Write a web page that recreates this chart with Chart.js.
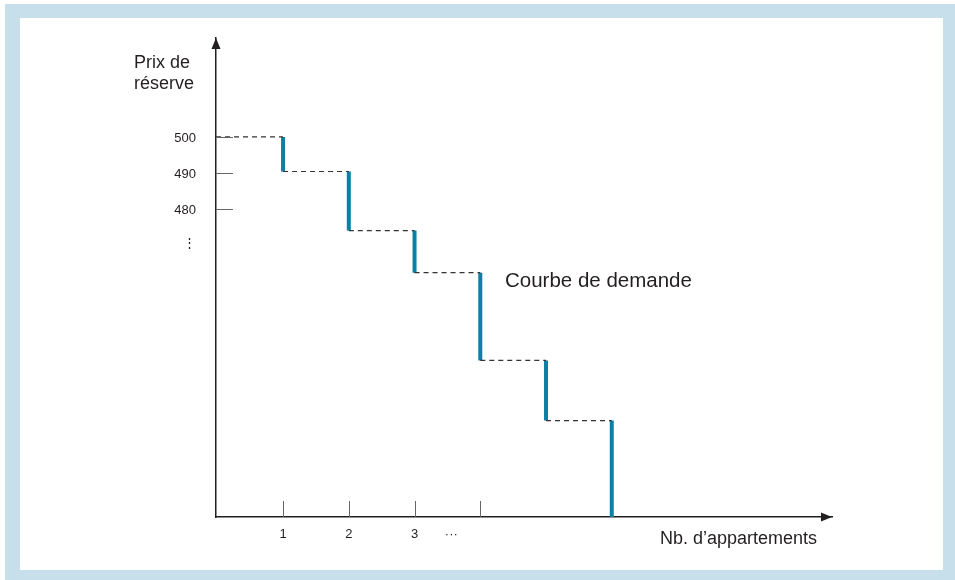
<!DOCTYPE html>
<html>
<head>
<meta charset="utf-8">
<script src="https://cdn.jsdelivr.net/npm/chart.js@4"></script>
<style>
  html, body { margin: 0; padding: 0; background: #fff; }
  #cadre { position: absolute; left: 5px; top: 4px; width: 950px; height: 576px; background: #c6dfeb; }
  #fond { position: absolute; left: 20px; top: 18px; width: 923px; height: 552px; background: #fff; }
  #zone { position: absolute; left: 0; top: 0; width: 955px; height: 580px; }
</style>
</head>
<body>
<div id="cadre"></div>
<div id="fond"></div>
<div id="zone"><canvas id="graphe" width="955" height="580"></canvas></div>
<script>
// donnees
var appartements = [1, 2, 3, 4, 5, 6];
var prixPalier = [500, 490.4, 474, 462.3, 437.9, 421.2]; // prix de reserve de chaque appartement
var prixPlancher = 394.4; // bas de l'axe

var xTickValeurs = [1, 2, 3, 3.56];
var xTickLabels = ['1', '2', '3', '\u00b7\u00b7\u00b7'];
var xTickTraits = [1, 2, 3, 4];
var yTickValeurs = [500, 490, 480, 470.8];
var yTickLabels = ['500', '490', '480', '\u22ee'];
var yTickTraits = [500, 490, 480];

var bleu = '#0b7fa5';
var encre = '#231f20';

// segments verticaux (bleu) et paliers horizontaux (tirets)
var verticaux = [];
var paliers = [];
for (let i = 0; i < appartements.length; i++) {
    let haut = prixPalier[i];
    let bas = i + 1 < prixPalier.length ? prixPalier[i + 1] : prixPlancher;
    verticaux.push({x: appartements[i], y: haut}, {x: appartements[i], y: bas}, {x: appartements[i], y: null});
    let debut = i == 0 ? -0.02 : appartements[i - 1];
    paliers.push({x: debut, y: haut}, {x: appartements[i], y: haut}, {x: appartements[i], y: null});
}

var decor = {
    id: 'decor',
    afterDraw(chart) {
        const ctx = chart.ctx;
        const a = chart.chartArea;
        const sx = chart.scales.x, sy = chart.scales.y;
        ctx.save();
        // petits traits des graduations
        ctx.strokeStyle = '#666';
        ctx.lineWidth = 1;
        xTickTraits.forEach(function(v) {
            const px = Math.round(sx.getPixelForValue(v)) + 0.5;
            ctx.beginPath();
            ctx.moveTo(px, a.bottom);
            ctx.lineTo(px, a.bottom - 16);
            ctx.stroke();
        });
        yTickTraits.forEach(function(v) {
            const py = Math.round(sy.getPixelForValue(v)) + 0.5;
            ctx.beginPath();
            ctx.moveTo(a.left, py);
            ctx.lineTo(a.left + 17, py);
            ctx.stroke();
        });
        // fleches
        ctx.fillStyle = encre;
        ctx.beginPath();
        ctx.moveTo(a.left, a.top);
        ctx.lineTo(a.left - 4.5, a.top + 11);
        ctx.lineTo(a.left + 4.5, a.top + 11);
        ctx.closePath();
        ctx.fill();
        ctx.beginPath();
        ctx.moveTo(a.right, a.bottom);
        ctx.lineTo(a.right - 11, a.bottom - 4.5);
        ctx.lineTo(a.right - 11, a.bottom + 4.5);
        ctx.closePath();
        ctx.fill();
        // textes
        ctx.fillStyle = encre;
        ctx.textBaseline = 'alphabetic';
        ctx.textAlign = 'left';
        ctx.font = '18px "Liberation Sans", Arial, sans-serif';
        ctx.fillText('Prix de', 134, 68);
        ctx.fillText('réserve', 134, 89);
        ctx.fillText('Nb. d\u2019appartements', 660, 544);
        ctx.font = '20.5px "Liberation Sans", Arial, sans-serif';
        ctx.fillText('Courbe de demande', 505, 287);
        ctx.restore();
    }
};

var ctx = document.getElementById('graphe').getContext('2d');
var chart = new Chart(ctx, {
    type: 'line',
    data: {
        datasets: [{
            data: paliers,
            borderColor: '#333',
            borderWidth: 1.2,
            borderDash: [5, 4],
            pointRadius: 0,
            spanGaps: false,
        }, {
            data: verticaux,
            borderColor: bleu,
            borderWidth: 4,
            borderCapStyle: 'butt',
            pointRadius: 0,
            spanGaps: false,
        }],
    },
    options: {
        responsive: false,
        animation: false,
        events: [],
        layout: {padding: {top: 38, right: 123, left: 0, bottom: 0}},
        plugins: {legend: {display: false}, tooltip: {enabled: false}},
        scales: {
            x: {
                type: 'linear',
                min: -0.02,
                max: 9.35,
                grid: {display: false, drawTicks: false},
                border: {color: encre, width: 1.5},
                afterBuildTicks: function(scale) {
                    scale.ticks = xTickValeurs.map(v => ({value: v}));
                },
                afterFit: function(scale) { scale.height = 63; },
                ticks: {
                    autoSkip: false,
                    maxRotation: 0,
                    padding: 10,
                    color: encre,
                    font: {family: '"Liberation Sans", Arial, sans-serif', size: 13},
                    callback: function(value, index) { return xTickLabels[index]; },
                },
            },
            y: {
                type: 'linear',
                min: prixPlancher,
                max: 527.5,
                grid: {display: false, drawTicks: false},
                border: {color: encre, width: 1.5},
                afterBuildTicks: function(scale) {
                    scale.ticks = yTickValeurs.map(v => ({value: v}));
                },
                afterFit: function(scale) { scale.width = 216; },
                ticks: {
                    autoSkip: false,
                    padding: 20,
                    labelOffset: 1.5,
                    color: encre,
                    font: {family: '"Liberation Sans", Arial, sans-serif', size: 13},
                    callback: function(value, index) { return yTickLabels[index]; },
                },
            },
        },
    },
    plugins: [decor],
});
</script>
</body>
</html>
